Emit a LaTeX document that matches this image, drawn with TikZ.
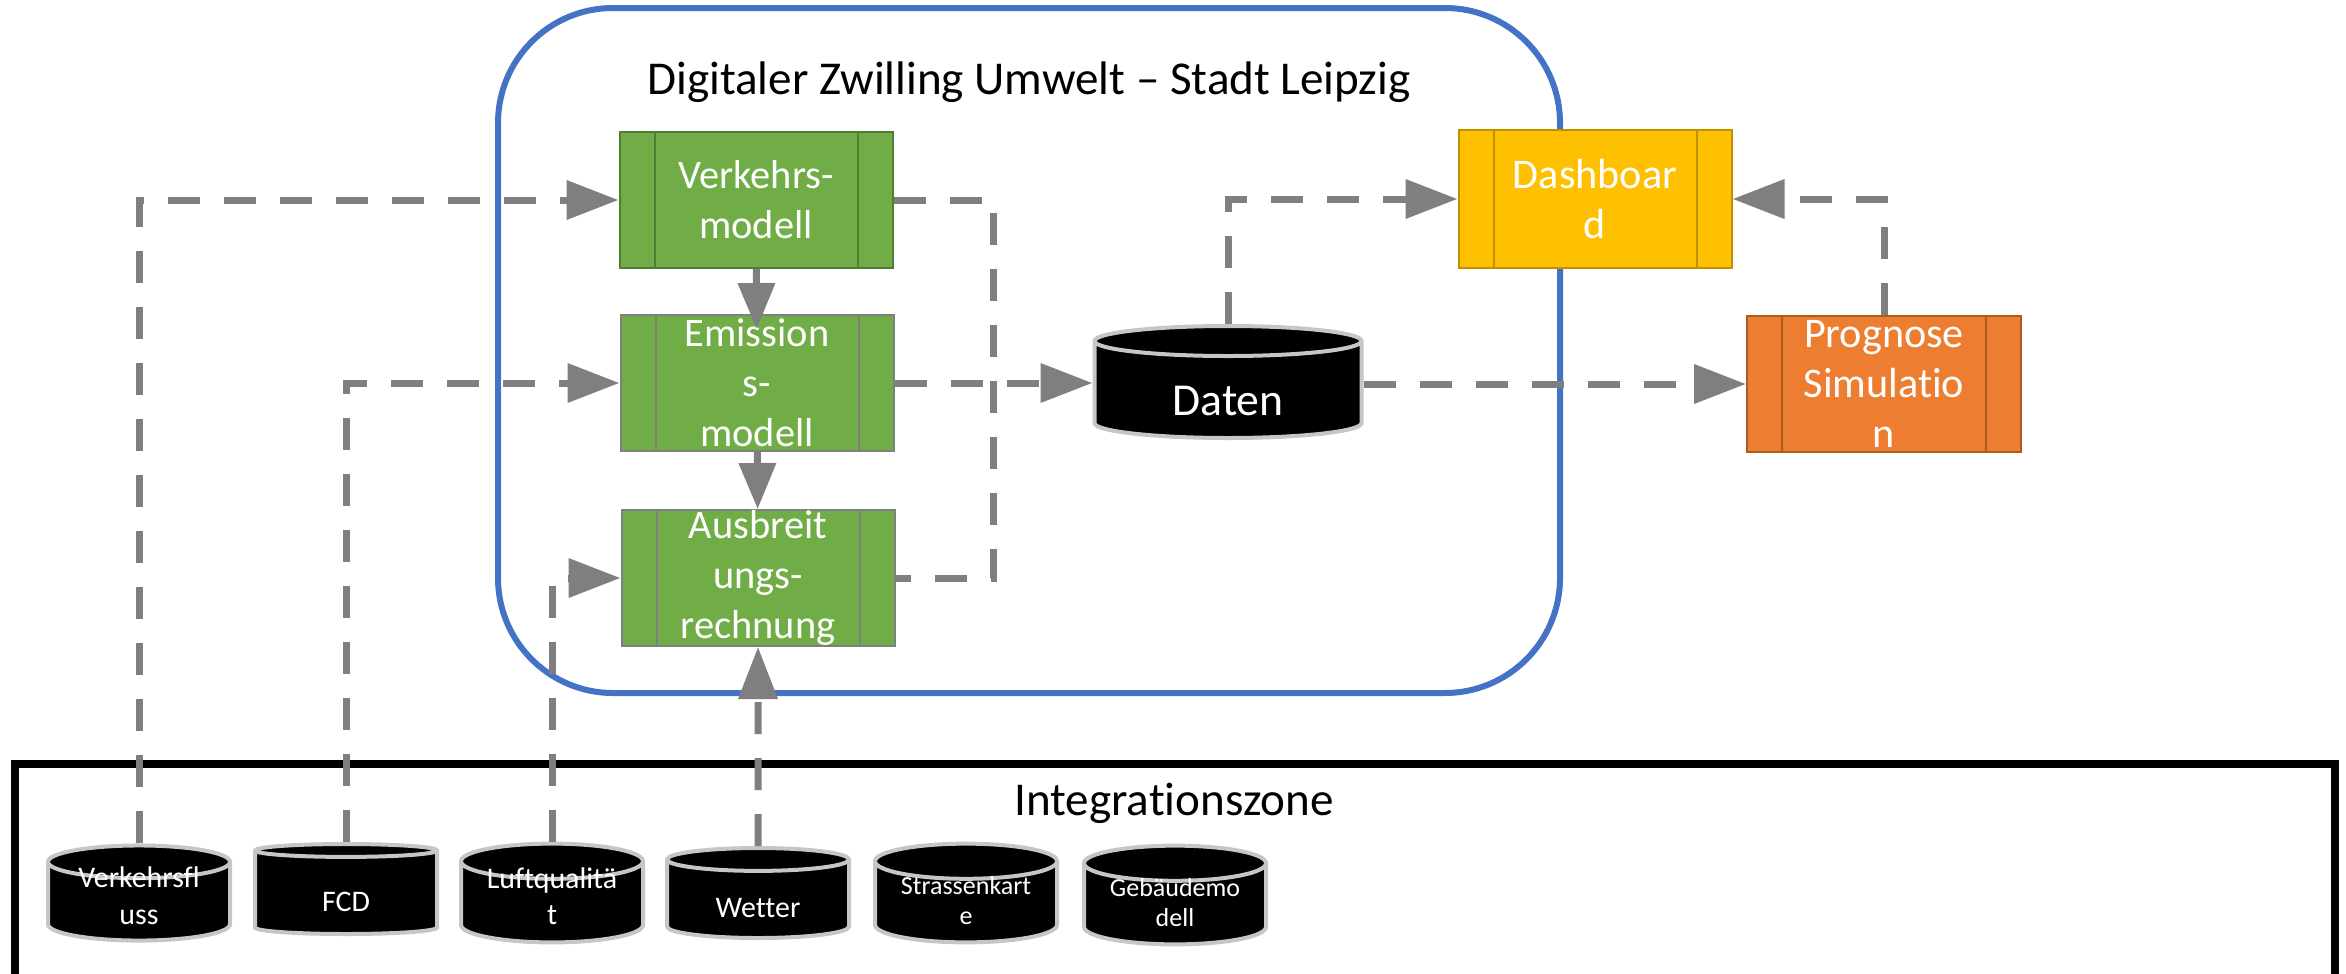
\documentclass[tikz,border=0pt]{standalone}
\usepackage{fontspec}
\setmainfont{Carlito}[Ligatures=NoCommon]
\usetikzlibrary{shapes.geometric,arrows.meta}

\definecolor{procgreen}{HTML}{70AD47}
\definecolor{procgreenline}{HTML}{507E32}
\definecolor{procgold}{HTML}{FFC000}
\definecolor{procgoldline}{HTML}{BF9000}
\definecolor{procorange}{HTML}{ED7D31}
\definecolor{procorangeline}{HTML}{AE5A21}
\definecolor{zoneblue}{HTML}{4472C4}
\definecolor{flowgray}{HTML}{7F7F7F}

\tikzset{
  proc/.style 2 args={rectangle, fill=#1, draw=#2, line width=0.2mm,
    minimum width=27.3mm, minimum height=13.6mm, inner xsep=1mm, inner ysep=0pt,
    text=white, align=center, font=\fontsize{11.5}{14.2}\selectfont,
    path picture={
      \draw[#2, line width=0.2mm]
        ([xshift=3.5mm]path picture bounding box.north west) -- ([xshift=3.5mm]path picture bounding box.south west)
        ([xshift=-3.5mm]path picture bounding box.north east) -- ([xshift=-3.5mm]path picture bounding box.south east);
    }},
  store/.style={cylinder, shape border rotate=90, aspect=0.27, draw=gray!45,
    line width=0.4mm, fill=black, text=white, align=center, inner sep=0pt,
    anchor=shape center},
  source/.style={store, minimum width=18.2mm, minimum height=9mm,
    text height=3.6mm, text depth=0pt, font=\fontsize{8.5}{10.4}\selectfont},
  twoline/.style={text height=4.4mm, text depth=0pt},
  smallsource/.style={source, twoline, font=\fontsize{7.4}{8.6}\selectfont},
  flow/.style={draw=flowgray, line width=0.7mm, dash pattern=on 3.2mm off 2.4mm},
  feed/.style={flow, -{Triangle[length=5.2mm,width=3.8mm]}},
  link/.style={draw=flowgray, line width=0.7mm, -{Triangle[length=4.6mm,width=3.6mm]}}
}

\begin{document}
\begin{tikzpicture}[x=1mm,y=-1mm]
  \useasboundingbox (0,0) rectangle (234.6,97.3);

  % Digitaler Zwilling
  \draw[zoneblue, line width=0.6mm, rounded corners=11.5mm] (49.8,0.8) rectangle (156.0,69.3);
  \node[font=\fontsize{13.4}{16}\selectfont] (title) at (102.9,8.2) {Digitaler Zwilling Umwelt – Stadt Leipzig};

  \node[proc={procgreen}{procgreenline}] (vm) at (75.6,20.0) {Verkehrs-\\modell};
  \node[proc={procgreen}{flowgray}] (em) at (75.7,38.3) {Emission\\s-\\modell};
  \node[proc={procgreen}{flowgray}] (ab) at (75.8,57.8) {Ausbreit\\ungs-\\rechnung};

  \node[store, minimum width=26.7mm, minimum height=11.2mm, text height=5mm, text depth=0pt,
    font=\fontsize{13}{15}\selectfont] (daten) at (122.8,38.2) {Daten};

  \node[proc={procgold}{procgoldline}, minimum height=13.8mm, font=\fontsize{12}{14.2}\selectfont] (dash) at (159.5,19.9) {Dashboar\\d};
  \node[proc={procorange}{procorangeline}, minimum width=27.4mm, font=\fontsize{12}{14.2}\selectfont] (prog) at (188.4,38.4) {Prognose\\Simulatio\\n};

  % Integrationszone
  \draw[black, line width=0.8mm] (1.5,99) -- (1.5,76.4) -- (233.5,76.4) -- (233.5,99);
  \node[font=\fontsize{13.4}{16}\selectfont] (iz) at (117.4,80.3) {Integrationszone};

  \node[source, twoline] (vfl) at (13.9,89.3) {Verkehrsfl\\uss};
  \node[source] (fcd) at (34.6,88.9) {FCD};
  \node[source, twoline] (luft) at (55.2,89.3) {Luftqualitä\\t};
  \node[source] (wet) at (75.8,89.3) {Wetter};
  \node[smallsource] (str) at (96.6,89.3) {Strassenkart\\e};
  \node[smallsource] (geb) at (117.5,89.5) {Gebäudemo\\dell};

  % Verbindungen
  \draw[link, shorten >=-1.5mm] (vm) -- (em);
  \draw[link] (em) -- (ab);

  \draw[feed] (vfl.north) |- (vm.west);
  \draw[feed] (fcd.north) |- (em.west);
  \draw[feed] (luft.north) |- (ab.west);
  \draw[feed] (wet.north) -- (ab.south);

  \coordinate (jn) at (99.3,38.3);
  \draw[flow] (vm.east) -| (jn) |- (ab.east);
  \draw[feed] (em.east) -- (em.east -| daten.west);

  \draw[feed] (daten.north) |- (dash.west);
  \draw[feed] (prog.west -| daten.east) -- (prog.west);
  \draw[feed] (prog.north) |- (dash.east);
\end{tikzpicture}
\end{document}
